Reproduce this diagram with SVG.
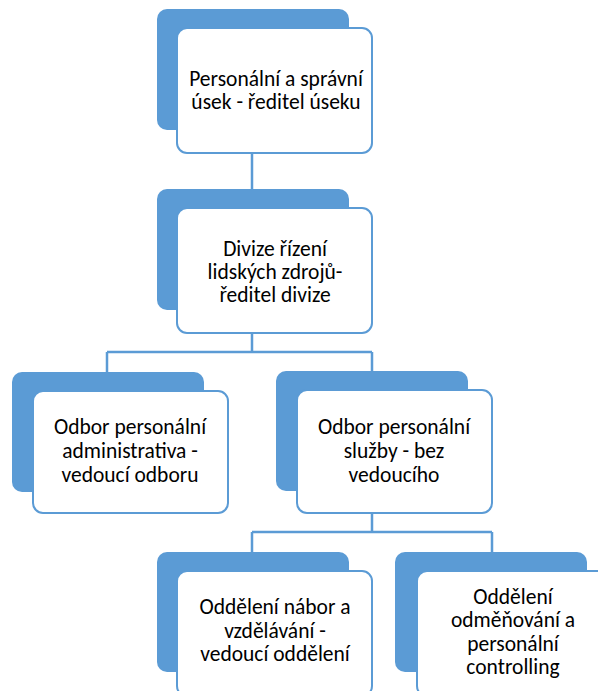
<svg xmlns="http://www.w3.org/2000/svg" width="598" height="691" viewBox="0 0 598 691">
  <style>
    .back { fill: #5b9bd5; }
    .front { fill: #ffffff; stroke: #5b9bd5; stroke-width: 2; }
    .lbl { font-family: Carlito, Calibri, "Liberation Sans", sans-serif; font-size: 21.5px; fill: #000000; text-anchor: middle; }
    .conn { fill: none; stroke: #5b9bd5; stroke-width: 2.5; }
  </style>
  <rect width="598" height="691" fill="#ffffff"/>

  <g id="connectors">
    <path class="conn" d="M252,153 V189"/>
    <path class="conn" d="M252,333 V352 M107,352 H372 M107,352 V372 M372,352 V371"/>
    <path class="conn" d="M372,513 V532 M252,532 H492 M252,532 V552 M492,532 V552"/>
  </g>

  <g id="usek">
    <rect class="back" x="157" y="9" width="192" height="121" rx="10"/>
    <rect class="front" x="177" y="28" width="195" height="125" rx="10"/>
    <text class="lbl"><tspan x="276" y="86">Personální a správní</tspan><tspan x="276" y="109">úsek - ředitel úseku</tspan></text>
  </g>

  <g id="divize">
    <rect class="back" x="157" y="189" width="192" height="121" rx="10"/>
    <rect class="front" x="177" y="208" width="195" height="125" rx="10"/>
    <text class="lbl"><tspan x="275" y="256">Divize řízení</tspan><tspan x="275" y="279">lidských zdrojů-</tspan><tspan x="275" y="302">ředitel divize</tspan></text>
  </g>

  <g id="odbor-administrativa">
    <rect class="back" x="12" y="372" width="192" height="120" rx="10"/>
    <rect class="front" x="33" y="391" width="195" height="122" rx="10"/>
    <text class="lbl"><tspan x="130" y="434">Odbor personální</tspan><tspan x="130" y="458">administrativa -</tspan><tspan x="130" y="482">vedoucí odboru</tspan></text>
  </g>

  <g id="odbor-sluzby">
    <rect class="back" x="276" y="371" width="192" height="120" rx="10"/>
    <rect class="front" x="297" y="390" width="195" height="123" rx="10"/>
    <text class="lbl"><tspan x="394" y="434">Odbor personální</tspan><tspan x="394" y="458">služby - bez</tspan><tspan x="394" y="482">vedoucího</tspan></text>
  </g>

  <g id="oddeleni-nabor">
    <rect class="back" x="157" y="552" width="192" height="120" rx="10"/>
    <rect class="front" x="177" y="571" width="195" height="125" rx="10"/>
    <text class="lbl"><tspan x="275" y="614">Oddělení nábor a</tspan><tspan x="275" y="638">vzdělávání -</tspan><tspan x="275" y="661">vedoucí oddělení</tspan></text>
  </g>

  <g id="oddeleni-odmenovani">
    <rect class="back" x="395" y="552" width="192" height="120" rx="10"/>
    <rect class="front" x="417" y="571" width="195" height="125" rx="10"/>
    <text class="lbl"><tspan x="513" y="604">Oddělení</tspan><tspan x="513" y="627">odměňování a</tspan><tspan x="513" y="651">personální</tspan><tspan x="513" y="674">controlling</tspan></text>
  </g>
</svg>
